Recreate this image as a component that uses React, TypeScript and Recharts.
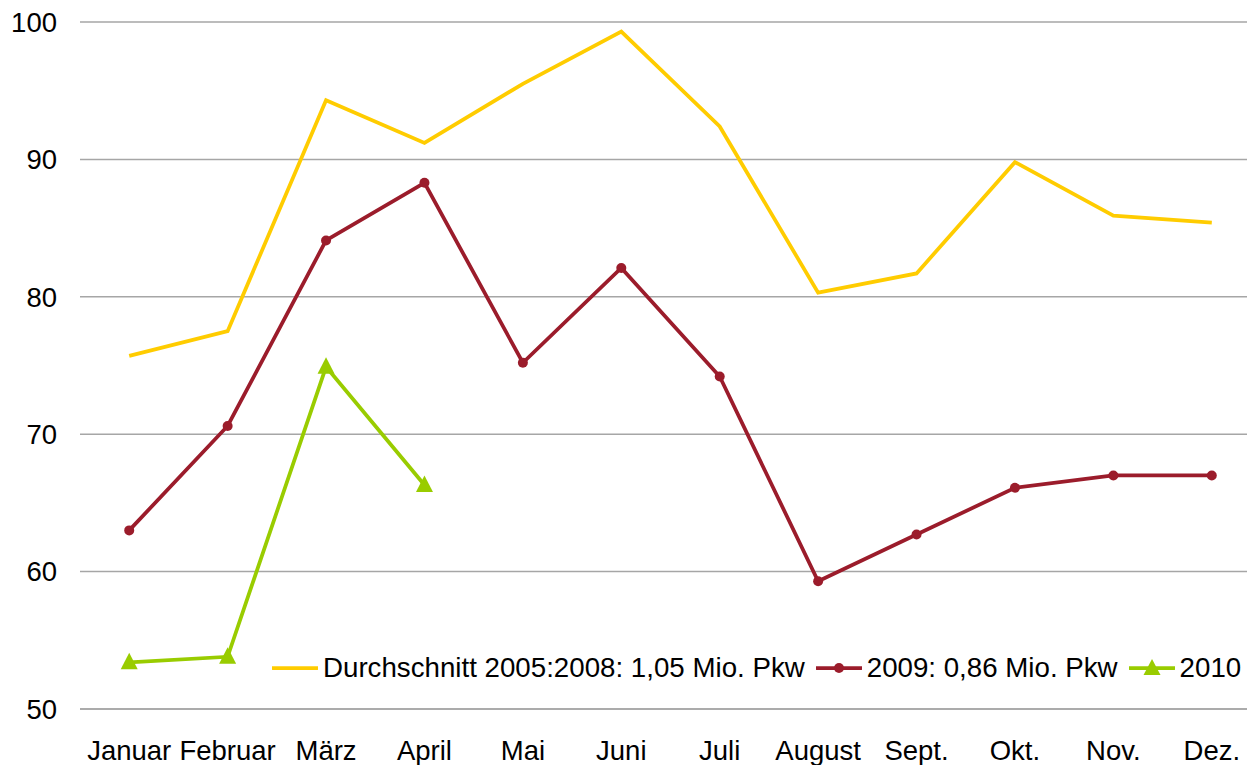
import React from "react";
import { LineChart, Line, XAxis, YAxis, CartesianGrid } from "recharts";

const months = ["Januar", "Februar", "März", "April", "Mai", "Juni", "Juli", "August", "Sept.", "Okt.", "Nov.", "Dez."];
const avg0508 = [75.7, 77.5, 94.3, 91.2, 95.5, 99.3, 92.4, 80.3, 81.7, 89.8, 85.9, 85.4];
const y2009 = [63.0, 70.6, 84.1, 88.3, 75.2, 82.1, 74.2, 59.3, 62.7, 66.1, 67.0, 67.0];
const y2010: (number | null)[] = [53.4, 53.8, 74.9, 66.3, null, null, null, null, null, null, null, null];
const yTicks = [50, 60, 70, 80, 90, 100];

const seriesKeys = ["avg", "y2009", "y2010"];
const seriesNames: Record<string, string> = {
  avg: "Durchschnitt 2005:2008: 1,05 Mio. Pkw",
  y2009: "2009: 0,86 Mio. Pkw",
  y2010: "2010",
};
const COLORS: Record<string, string> = { avg: "#FFCC00", y2009: "#9B1C2B", y2010: "#99CC00" };
const FONT = "'Liberation Sans', Arial, sans-serif";
const FS = 27.5;
const SW = 3.75;

const data = months.map((m, i) => ({
  month: m,
  avg: avg0508[i],
  y2009: y2009[i],
  y2010: y2010[i],
}));

const Triangle = (props: any) => {
  const { cx, cy, fill } = props;
  if (cx == null || cy == null || props.value == null) return null;
  return <path d={`M${cx},${cy - 9.5}L${cx + 8.5},${cy + 7}L${cx - 8.5},${cy + 7}Z`} fill={fill} />;
};

const LegendBox = () => (
  <div
    style={{
      position: "absolute",
      left: 272,
      top: 654,
      display: "flex",
      alignItems: "center",
      fontFamily: FONT,
      fontSize: 27.7,
      color: "#000",
      whiteSpace: "nowrap",
      lineHeight: "28px",
    }}
  >
    {seriesKeys.map((key) => {
      const c = COLORS[key];
      return (
        <div key={key} style={{ display: "flex", alignItems: "center", marginRight: 11 }}>
          <svg width={46} height={22} style={{ marginRight: 5 }}>
            <line x1={1} y1={11} x2={45} y2={11} stroke={c} strokeWidth={SW} strokeLinecap="round" />
            {key === "y2009" && <circle cx={23} cy={11} r={5} fill={c} />}
            {key === "y2010" && <path d="M23,2L31.5,18L14.5,18Z" fill={c} />}
          </svg>
          <span>{seriesNames[key]}</span>
        </div>
      );
    })}
  </div>
);

export default function App() {
  return (
    <div style={{ position: "fixed", left: 0, top: 0, width: 1247, height: 765, overflow: "hidden", background: "#fff" }}>
      <LineChart width={1265} height={765} data={data} margin={{ top: 22, right: 4, bottom: 0, left: 0 }}>
        <CartesianGrid vertical={false} stroke="#A6A6A6" strokeWidth={1.5} />
        <XAxis
          dataKey="month"
          scale="band"
          axisLine={{ stroke: "#A6A6A6", strokeWidth: 1.5 }}
          tickLine={false}
          tickSize={0}
          tickMargin={31}
          height={56}
          interval={0}
          tick={{ fill: "#000", fontSize: FS, fontFamily: FONT }}
        />
        <YAxis
          domain={[50, 100]}
          ticks={yTicks}
          axisLine={false}
          tickLine={false}
          tickSize={0}
          tickMargin={23}
          width={80}
          tick={{ fill: "#000", fontSize: FS, fontFamily: FONT }}
        />
        <Line
          type="linear"
          dataKey="avg"
          name={seriesNames.avg}
          stroke={COLORS.avg}
          strokeWidth={SW}
          dot={false}
          activeDot={false}
          isAnimationActive={false}
        />
        <Line
          type="linear"
          dataKey="y2009"
          name={seriesNames.y2009}
          stroke={COLORS.y2009}
          strokeWidth={SW}
          dot={{ r: 5, fill: COLORS.y2009, stroke: "none" }}
          activeDot={false}
          isAnimationActive={false}
        />
        <Line
          type="linear"
          dataKey="y2010"
          name={seriesNames.y2010}
          stroke={COLORS.y2010}
          strokeWidth={SW}
          dot={<Triangle fill={COLORS.y2010} />}
          activeDot={false}
          connectNulls={false}
          isAnimationActive={false}
        />
      </LineChart>
      <LegendBox />
    </div>
  );
}
